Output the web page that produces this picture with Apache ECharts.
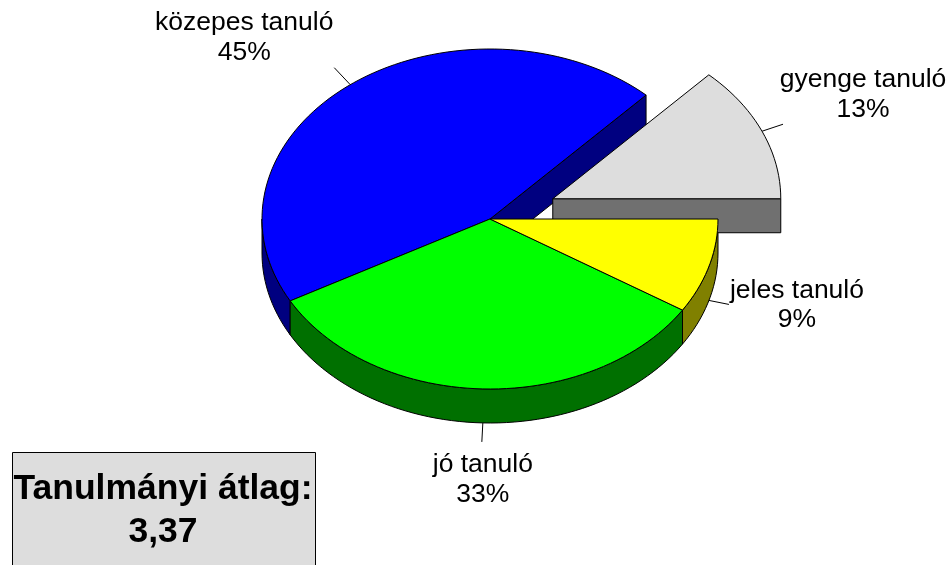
<!DOCTYPE html>
<html>
<head>
<meta charset="utf-8">
<script src="https://cdn.jsdelivr.net/npm/echarts@6/dist/echarts.min.js"></script>
<style>
  html, body { margin: 0; padding: 0; background: #fff; }
  #chart { width: 952px; height: 565px; }
</style>
</head>
<body>
<div id="chart"></div>
<script>
// slices in counter-clockwise order, starting at 3 o'clock
const categories = ['gyenge tanuló', 'közepes tanuló', 'jó tanuló', 'jeles tanuló']
const percents = [13, 45, 33, 9]
const average = 3.37

// styling
const topColors = ['#dddddd', '#0000ff', '#00ff00', '#ffff00']
const sideColors = ['#707070', '#000080', '#007000', '#808000']
const explode = [0.3, 0, 0, 0]
// label placement relative to the leader anchor (px)
const leaderEnd = [[21, -7], [-16, -17], [-1, 19], [20, 4]]
const labelOffset = [[101, -36.5], [-106, -47], [0, 57], [88, 5]]

const DEPTH = 0.2 // pie thickness in y units
const FONT = 'Liberation Sans, Arial, sans-serif'

const total = percents.reduce((a, b) => a + b, 0)
const angles = []
let acc = 0
percents.forEach((v) => {
  const a1 = (acc / total) * Math.PI * 2
  acc += v
  angles.push([a1, (acc / total) * Math.PI * 2])
})

const offsetOf = (i) => {
  const m = (angles[i][0] + angles[i][1]) / 2
  return [explode[i] * Math.cos(m), explode[i] * Math.sin(m)]
}

const arc = (api, i, s, e, dy) => {
  const [ox, oy] = offsetOf(i)
  const pts = []
  const n = Math.max(2, Math.ceil(((e - s) / (Math.PI * 2)) * 180))
  for (let k = 0; k <= n; k++) {
    const t = s + ((e - s) * k) / n
    pts.push(api.coord([ox + Math.cos(t), oy + Math.sin(t) - dy]))
  }
  return pts
}

const edge = { stroke: '#000', lineWidth: 1, lineJoin: 'round' }

const renderSides = (params, api) => {
  const i = api.value(0)
  const [a1, a2] = angles[i]
  const [ox, oy] = offsetOf(i)
  const n = categories.length
  const prev = (i + n - 1) % n
  const next = (i + 1) % n
  const children = []
  const face = (a) => {
    const c = api.coord([ox, oy])
    const cb = api.coord([ox, oy - DEPTH])
    const r = api.coord([ox + Math.cos(a), oy + Math.sin(a)])
    const rb = api.coord([ox + Math.cos(a), oy + Math.sin(a) - DEPTH])
    return {
      type: 'polygon',
      shape: { points: [c, r, rb, cb] },
      style: Object.assign({ fill: sideColors[i] }, edge)
    }
  }
  if (Math.cos(a1) > 0 && (explode[i] || explode[prev])) children.push(face(a1))
  if (Math.cos(a2) < 0 && (explode[i] || explode[next])) children.push(face(a2))
  const s = Math.max(a1, Math.PI)
  const e = Math.min(a2, Math.PI * 2)
  if (e > s) {
    const pts = arc(api, i, s, e, 0).concat(arc(api, i, s, e, DEPTH).reverse())
    children.push({
      type: 'polygon',
      shape: { points: pts },
      style: Object.assign({ fill: sideColors[i] }, edge)
    })
  }
  return { type: 'group', children: children }
}

const renderTops = (params, api) => {
  const i = api.value(0)
  const [a1, a2] = angles[i]
  const [ox, oy] = offsetOf(i)
  const pts = [api.coord([ox, oy])].concat(arc(api, i, a1, a2, 0))
  const m = (a1 + a2) / 2
  const front = Math.sin(m) < 0
  const anchor = api.coord([ox + Math.cos(m), oy + Math.sin(m) - (front ? DEPTH : 0)])
  const end = [anchor[0] + leaderEnd[i][0], anchor[1] + leaderEnd[i][1]]
  return {
    type: 'group',
    children: [
      {
        type: 'polygon',
        shape: { points: pts },
        style: Object.assign({ fill: topColors[i] }, edge)
      },
      {
        type: 'line',
        shape: { x1: anchor[0], y1: anchor[1], x2: end[0], y2: end[1] },
        style: { stroke: '#000', lineWidth: 1 }
      },
      {
        type: 'text',
        x: anchor[0] + labelOffset[i][0],
        y: anchor[1] + labelOffset[i][1],
        style: {
          text: categories[i] + '\n' + percents[i] + '%',
          fill: '#000',
          fontSize: 26.5,
          fontFamily: FONT,
          lineHeight: 29.5,
          align: 'center',
          verticalAlign: 'middle'
        }
      }
    ]
  }
}

const sliceIdx = categories.map((c, i) => i)
// exploded slices are painted after the rest
const sideOrder = sliceIdx.slice().sort((a, b) => explode[a] - explode[b])

const chart = echarts.init(document.getElementById('chart'), null, { renderer: 'canvas' })
chart.setOption({
  animation: false,
  backgroundColor: '#fff',
  grid: { left: 262, top: 49, width: 456, height: 340 },
  xAxis: { type: 'value', min: -1, max: 1, show: false },
  yAxis: { type: 'value', min: -1, max: 1, show: false },
  series: [
    {
      type: 'custom',
      name: 'sides',
      renderItem: renderSides,
      data: sideOrder.map((i) => [i]),
      silent: true,
      z: 2
    },
    {
      type: 'custom',
      name: 'tops',
      renderItem: renderTops,
      data: sliceIdx.map((i) => [i]),
      silent: true,
      z: 3
    }
  ],
  graphic: [
    {
      type: 'rect',
      left: 12,
      top: 452,
      shape: { width: 303, height: 140 },
      style: { fill: '#dddddd', stroke: '#000', lineWidth: 1 }
    },
    {
      type: 'text',
      x: 163,
      y: 511,
      style: {
        text: 'Tanulmányi átlag:\n' + average.toFixed(2).replace('.', ','),
        fill: '#000',
        fontSize: 35.5,
        fontWeight: 'bold',
        fontFamily: FONT,
        lineHeight: 43,
        align: 'center',
        verticalAlign: 'middle'
      }
    }
  ]
})
</script>
</body>
</html>
